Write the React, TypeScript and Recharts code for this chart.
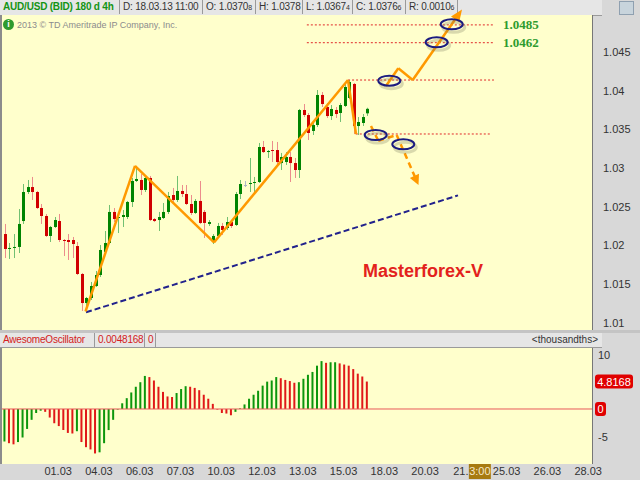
import React from 'react';
import { ComposedChart, Bar, Cell, XAxis, YAxis, ReferenceLine, ReferenceDot } from 'recharts';

const FONT = 'Arial, "Liberation Sans", sans-serif';

// 4h candles, AUD/USD, oldest first
const opens = [
  1.02149, 1.01956, 1.01969, 1.01982, 1.02317, 1.02692, 1.02756, 1.02692, 1.02485, 1.02382,
  1.02124, 1.0224, 1.02317, 1.02072, 1.02072, 1.02072, 1.01994, 1.01633, 1.01258, 1.01323,
  1.01478, 1.0162, 1.01917, 1.02033, 1.02434, 1.02356, 1.02369, 1.02369, 1.02563, 1.02834,
  1.02847, 1.02718, 1.02873, 1.02343, 1.0233, 1.02356, 1.02434, 1.02653, 1.02589, 1.02705,
  1.02666, 1.02537, 1.02421, 1.02576, 1.02434, 1.02279, 1.02046, 1.02124, 1.02253, 1.02227,
  1.02304, 1.02266, 1.02666, 1.02782, 1.02795, 1.02808, 1.02821, 1.03273, 1.03208, 1.03234,
  1.03234, 1.03066, 1.03079, 1.03144, 1.03066, 1.02976, 1.03751, 1.03686, 1.0348, 1.03557,
  1.03945, 1.0379, 1.03673, 1.03751, 1.03712, 1.03803, 1.03906, 1.04087, 1.03544, 1.03583,
  1.03708,
];
const closes = [
  1.01956, 1.01969, 1.01982, 1.02279, 1.02692, 1.02756, 1.02692, 1.02485, 1.02382, 1.02124,
  1.0224, 1.0233, 1.02072, 1.02059, 1.02046, 1.0202, 1.01633, 1.01258, 1.01323, 1.01478,
  1.0162, 1.01943, 1.02033, 1.02434, 1.02343, 1.02369, 1.02395, 1.02563, 1.02834, 1.0286,
  1.02718, 1.02873, 1.0233, 1.02317, 1.02369, 1.02434, 1.0264, 1.02589, 1.02705, 1.02666,
  1.02537, 1.02421, 1.02576, 1.02292, 1.02292, 1.02304, 1.02124, 1.02253, 1.02201, 1.02304,
  1.02253, 1.02666, 1.02795, 1.02782, 1.02808, 1.02821, 1.03273, 1.03208, 1.03221, 1.03221,
  1.03079, 1.03144, 1.03144, 1.03066, 1.02976, 1.03751, 1.03686, 1.03454, 1.03557, 1.03945,
  1.03828, 1.03673, 1.03764, 1.03699, 1.03815, 1.04048, 1.04113, 1.03544, 1.03596, 1.0366,
  1.03766,
];
const highs = [
  1.02279, 1.02033, 1.02149, 1.02472, 1.02795, 1.02847, 1.02886, 1.02705, 1.02537, 1.02408,
  1.02253, 1.02369, 1.02408, 1.02085, 1.02149, 1.02111, 1.02046, 1.01646, 1.01336, 1.0153,
  1.01672, 1.02007, 1.02188, 1.02524, 1.02485, 1.02395, 1.02459, 1.02576, 1.02873, 1.03015,
  1.02924, 1.02911, 1.02899, 1.02356, 1.02434, 1.0255, 1.02692, 1.02744, 1.02899, 1.02782,
  1.02782, 1.02653, 1.02601, 1.02834, 1.02459, 1.0233, 1.02149, 1.02292, 1.02292, 1.02369,
  1.0233, 1.02692, 1.02847, 1.02834, 1.03131, 1.02886, 1.03325, 1.03351, 1.03234, 1.03351,
  1.03338, 1.03196, 1.03208, 1.03208, 1.03131, 1.03764, 1.03828, 1.03712, 1.03596, 1.04009,
  1.03983, 1.03841, 1.03815, 1.0379, 1.03841, 1.04113, 1.04138, 1.041, 1.0366, 1.03699,
  1.0378,
];
const lows = [
  1.01839, 1.01827, 1.01839, 1.01904, 1.02279, 1.02666, 1.02589, 1.02472, 1.02279, 1.02111,
  1.02046, 1.02227, 1.02046, 1.01865, 1.01814, 1.01839, 1.0162, 1.01155, 1.01194, 1.01297,
  1.01465, 1.01594, 1.01904, 1.0202, 1.02304, 1.02162, 1.0224, 1.02343, 1.02498, 1.02821,
  1.02653, 1.02692, 1.02317, 1.02304, 1.02188, 1.02343, 1.02408, 1.02563, 1.02563, 1.02627,
  1.02524, 1.02395, 1.02408, 1.02279, 1.02098, 1.02253, 1.0202, 1.02098, 1.02137, 1.02201,
  1.02227, 1.02253, 1.02601, 1.02756, 1.02692, 1.02666, 1.02808, 1.03196, 1.03131, 1.03079,
  1.03041, 1.02976, 1.03041, 1.02821, 1.02873, 1.02873, 1.0366, 1.03363, 1.03428, 1.03531,
  1.0379, 1.03648, 1.03622, 1.03648, 1.03596, 1.0379, 1.03893, 1.03441, 1.03428, 1.03544,
  1.03674,
];

// Awesome Oscillator, thousandths
const aoValues = [
  -5.7, -6.0, -6.2, -5.8, -5.0, -3.5, -1.9, -0.7, -0.3, -0.5,
  -1.5, -2.5, -3.0, -3.7, -4.2, -4.3, -3.9, -5.8, -6.7, -7.1,
  -7.8, -7.6, -6.0, -3.7, -1.9, -0.1, 1.0, 1.9, 2.9, 3.9,
  4.7, 5.8, 5.6, 5.0, 3.9, 3.0, 2.2, 2.1, 2.8, 3.5,
  4.0, 3.9, 3.7, 3.3, 2.5, 1.8, 0.9, -0.1, -0.7, -0.8,
  -1.1, -0.5, 0.1, 0.8, 1.8, 2.5, 3.2, 4.1, 4.8, 5.0,
  5.6, 5.4, 5.1, 4.9, 4.6, 4.7, 5.3, 6.0, 6.5, 7.6,
  8.4, 8.1, 8.2, 8.2, 8.0, 7.8, 7.6, 7.0, 6.2, 5.7,
  4.8168,
];

const dateTicks = [11.8, 20.8, 29.8, 38.8, 47.8, 56.8, 65.8, 74.8, 83.8, 92.8, 101.8, 110.8, 119.8, 128.8];
// "21." is the date partly hidden behind the cursor time box
const dateLabels = ['01.03', '04.03', '06.03', '07.03', '10.03', '12.03', '13.03', '15.03', '18.03', '20.03', '21.', '25.03', '26.03', '28.03'];
const priceTicks = [1.01, 1.015, 1.02, 1.025, 1.03, 1.035, 1.04, 1.045];

const symbolTitle = 'AUD/USD (BID) 180 d 4h';
const barTime = '18.03.13 11:00';
const cursorTime = '3:00';

// hand-drawn analysis, in (bar index, price)
const zigzag = [
  { x: 17.84, y: 1.01149 }, { x: 28.76, y: 1.03028 }, { x: 46.2, y: 1.0204 },
  { x: 75.78, y: 1.04138 }, { x: 77.55, y: 1.03441 },
];
const trendLine = [{ x: 17.95, y: 1.01138 }, { x: 100.07, y: 1.02648 }];
const targetPath = [
  { x: 84.17, y: 1.04061 }, { x: 86.89, y: 1.04289 }, { x: 90.07, y: 1.04138 }, { x: 99.69, y: 1.04943 },
];
const targetTip = { x: 100.95, y: 1.05049 };
const downPath = [
  { x: 80.86, y: 1.03544 }, { x: 82.47, y: 1.03354 }, { x: 86.53, y: 1.03428 }, { x: 90.56, y: 1.02888 },
];
const downTip = { x: 91.35, y: 1.02782 };
const levelPrices = [1.0485, 1.0462, 1.04138, 1.03441];
const levelStarts = [66.7, 66.7, 75.8, 77.5];
const levelEnds = [108, 108, 108, 107.2];
const labelledLevels = [1.0485, 1.0462];
const circles = [
  { x: 98.68, y: 1.04858 }, { x: 95.36, y: 1.04625 }, { x: 84.9, y: 1.04129 },
  { x: 81.9, y: 1.03428 }, { x: 87.99, y: 1.03308 },
];

const xDomain = [-0.596, 129.65];

const rows = opens.map((o, i) => ({
  i,
  open: o,
  close: closes[i],
  high: highs[i],
  low: lows[i],
  ao: aoValues[i],
  aoColor: i > 0 && aoValues[i] < aoValues[i - 1] ? '#e01818' : '#0c960c',
}));
const last = rows[rows.length - 1];
const aoLast = aoValues[aoValues.length - 1];

const split = (v: number) => {
  const s = v.toFixed(5);
  const d = s.slice(-1);
  return { main: s.slice(0, -1), small: d === '0' ? '' : d };
};

const Candle = (props: any) => {
  const { x, y, width, height, payload } = props;
  const top = Math.min(y, y + height);
  const h = Math.abs(height);
  const range = payload.high - payload.low;
  const ppu = range > 0 ? h / range : 0;
  const py = (v: number) => top + (payload.high - v) * ppu;
  const cx = Math.round(x + width / 2) + 0.5;
  const flat = payload.close === payload.open;
  const up = payload.close > payload.open;
  const body = flat ? '#a8b0c0' : up ? '#008400' : '#d00000';
  const wick = flat ? '#b0b8c8' : up ? '#72c072' : '#ec8c8c';
  const yo = py(payload.open);
  const yc = py(payload.close);
  const bt = Math.min(yo, yc);
  const bh = Math.max(1, Math.abs(yo - yc));
  return (
    <g>
      <line x1={cx} x2={cx} y1={top} y2={top + h} stroke={wick} strokeWidth={1} />
      <rect x={cx - 1.5} y={bt} width={3} height={bh} fill={body} />
    </g>
  );
};

const Ring = (p: any) => (
  <g>
    <ellipse cx={p.cx + 2} cy={p.cy + 3} rx={11} ry={5} fill="none" stroke="rgba(120,120,90,0.28)" strokeWidth={3} />
    <ellipse cx={p.cx} cy={p.cy} rx={11} ry={5} fill="none" stroke="#1c1c80" strokeWidth={2} />
  </g>
);

const arrowHead = (angle: number, len: number, half: number) => (p: any) => (
  <polygon
    points={`${p.cx},${p.cy} ${p.cx - len},${p.cy - half} ${p.cx - len},${p.cy + half}`}
    fill="#ff9900"
    transform={`rotate(${angle} ${p.cx} ${p.cy})`}
  />
);

const segs = (pts: { x: number; y: number }[]) =>
  pts.slice(1).map((p, k) => [pts[k], p] as [{ x: number; y: number }, { x: number; y: number }]);

const DateTick = (p: any) => {
  const k = dateTicks.indexOf(p.payload.value);
  const label = dateLabels[k];
  const isCursor = k === 10;
  return (
    <g>
      <text x={isCursor ? p.x - 5 : p.x} y={p.y + 9} textAnchor="middle" fontSize={11} fontFamily={FONT} fill="#333">{label}</text>
      {isCursor && (
        <g>
          <rect x={p.x + 3} y={p.y - 2} width={22} height={15} fill="#a77a10" />
          <text x={p.x + 14} y={p.y + 9} textAnchor="middle" fontSize={11} fontFamily={FONT} fill="#f6e8c8">{cursorTime}</text>
        </g>
      )}
    </g>
  );
};

const AoTick = (p: any) => {
  const v = p.payload.value;
  if (v === aoLast || v === 0) {
    const txt = v === 0 ? '0' : v.toFixed(4);
    const w = v === 0 ? 11 : 38;
    return (
      <g>
        <rect x={p.x} y={p.y - 7} width={w} height={14} rx={3} fill="#e00000" />
        <text x={p.x + w / 2} y={p.y + 4} textAnchor="middle" fontSize={11} fontFamily={FONT} fill="#fff">{txt}</text>
      </g>
    );
  }
  // top label sits right under the panel header
  const dy = v > 9 ? 7 : 4;
  return (
    <text x={p.x + 3} y={p.y + dy} fontSize={11} fontFamily={FONT} fill="#333">{v}</text>
  );
};

const cellStyle = (left: number, width: number, color = '#333', bold = false): React.CSSProperties => ({
  position: 'absolute',
  left,
  top: 0,
  width,
  height: 14,
  borderRight: '1px solid #9a9a9a',
  paddingLeft: 3,
  boxSizing: 'border-box',
  fontSize: 10,
  letterSpacing: -0.2,
  lineHeight: '14px',
  color,
  fontWeight: bold ? 700 : 400,
  whiteSpace: 'nowrap',
});

const Val = ({ label, v }: { label: string; v: number }) => {
  const s = split(v);
  return (
    <span>
      {label}: {s.main}
      <span style={{ fontSize: 7 }}>{s.small}</span>
    </span>
  );
};

const App = () => {
  return (
    <div style={{ position: 'fixed', left: 0, top: 0, width: 640, height: 480, background: '#d8d8d8', overflow: 'hidden', fontFamily: FONT }}>
      {/* quote header */}
      <div style={{ position: 'absolute', left: 0, top: 0, width: 602, height: 15, background: '#e6e6e6', borderBottom: '1px solid #9a9a9a' }}>
        <div style={cellStyle(0, 120, '#149414', true)}>{symbolTitle}</div>
        <div style={cellStyle(120, 83)}>D: {barTime}</div>
        <div style={cellStyle(203, 53)}><Val label="O" v={last.open} /></div>
        <div style={cellStyle(256, 47)}><Val label="H" v={last.high} /></div>
        <div style={cellStyle(303, 50)}><Val label="L" v={last.low} /></div>
        <div style={cellStyle(353, 53)}><Val label="C" v={last.close} /></div>
        <div style={cellStyle(406, 52)}><Val label="R" v={last.high - last.low} /></div>
      </div>
      <div style={{ position: 'absolute', left: 619, top: 1, width: 13, height: 12, background: '#c8d4dc', border: '1px solid #8fa0b0' }} />

      {/* price panel */}
      <div style={{ position: 'absolute', left: 0, top: 15, width: 2, height: 315, background: '#8c8c8c' }} />
      <div style={{ position: 'absolute', left: 2, top: 15, width: 590, height: 315, background: '#ffffcc', borderRight: '1px solid #777' }} />
      <div style={{ position: 'absolute', left: 3, top: 19, width: 11, height: 11, borderRadius: 6, background: '#2e9b2e', color: '#fff', fontSize: 9, fontWeight: 700, lineHeight: '11px', textAlign: 'center' }}>i</div>
      <div style={{ position: 'absolute', left: 17, top: 19, fontSize: 9, color: '#8c8c8c', lineHeight: '12px' }}>2013 © TD Ameritrade IP Company, Inc.</div>
      <div style={{ position: 'absolute', left: 363, top: 260, fontSize: 18, fontWeight: 700, color: '#e3221c', lineHeight: '22px' }}>Masterforex-V</div>
      <div style={{ position: 'absolute', left: 0, top: 0 }}>
        <ComposedChart width={640} height={331} data={rows} margin={{ top: 14, right: 0, bottom: 1, left: 2 }}>
          <XAxis type="number" dataKey="i" domain={xDomain} allowDataOverflow hide ticks={dateTicks} />
          <YAxis
            orientation="right"
            width={48}
            domain={[1.009096, 1.049907]}
            allowDataOverflow
            ticks={priceTicks}
            interval={0}
            axisLine={false}
            tickLine={false}
            tickSize={0}
            tickMargin={11}
            tick={{ fill: '#333', fontSize: 11, fontFamily: FONT }}
          />
          <Bar dataKey={(d: any) => [d.low, d.high]} shape={Candle} barSize={3} isAnimationActive={false} />
          {levelPrices.map((lv, k) => (
            <ReferenceLine
              key={`lv${k}`}
              segment={[{ x: levelStarts[k], y: lv }, { x: levelEnds[k], y: lv }]}
              stroke="#e02828"
              strokeDasharray="2 2"
            />
          ))}
          {segs(trendLine).map((s, k) => (
            <ReferenceLine key={`tr${k}`} segment={s} stroke="#22228c" strokeWidth={2} strokeDasharray="6 3" />
          ))}
          {segs(zigzag).map((s, k) => (
            <ReferenceLine key={`zz${k}`} segment={s} stroke="#ff9900" strokeWidth={2.5} />
          ))}
          {segs(targetPath).map((s, k) => (
            <ReferenceLine key={`tp${k}`} segment={s} stroke="#ff9900" strokeWidth={2.5} ifOverflow="visible" />
          ))}
          <ReferenceDot x={targetTip.x} y={targetTip.y} r={0} ifOverflow="visible" shape={arrowHead(-55, 12, 5)} />
          {segs(downPath).map((s, k) => (
            <ReferenceLine key={`dp${k}`} segment={s} stroke="#ff9900" strokeWidth={2.5} strokeDasharray="6 4" />
          ))}
          <ReferenceDot x={downTip.x} y={downTip.y} r={0} ifOverflow="visible" shape={arrowHead(66, 10, 5)} />
          {circles.map((c, k) => (
            <ReferenceDot key={`c${k}`} x={c.x} y={c.y} r={0} ifOverflow="visible" shape={Ring} />
          ))}
          {labelledLevels.map((lv) => (
            <ReferenceDot
              key={`lb${lv}`}
              x={110}
              y={lv}
              r={0}
              shape={(p: any) => (
                <text x={p.cx} y={p.cy + 4} fontSize={13} fontWeight={700} fontFamily='"Liberation Serif", "Times New Roman", serif' fill="#2e9b2e">
                  {lv.toFixed(4)}
                </text>
              )}
            />
          ))}
        </ComposedChart>
      </div>

      {/* oscillator panel */}
      <div style={{ position: 'absolute', left: 0, top: 330, width: 640, height: 3, background: '#c4c4c4' }} />
      <div style={{ position: 'absolute', left: 0, top: 333, width: 602, height: 15, background: '#e6e6e6', borderBottom: '1px solid #9a9a9a', boxSizing: 'border-box' }}>
        <div style={cellStyle(0, 95, '#d42020')}>AwesomeOscillator</div>
        <div style={cellStyle(95, 50, '#d42020')}>{(aoLast / 1000).toFixed(7)}</div>
        <div style={cellStyle(145, 11, '#d42020')}>0</div>
        <div style={{ position: 'absolute', right: 4, top: 0, fontSize: 10, lineHeight: '14px', color: '#333' }}>&lt;thousandths&gt;</div>
      </div>
      <div style={{ position: 'absolute', left: 0, top: 348, width: 2, height: 116, background: '#8c8c8c' }} />
      <div style={{ position: 'absolute', left: 2, top: 348, width: 590, height: 116, background: '#ffffcc', borderRight: '1px solid #777' }} />
      <div style={{ position: 'absolute', left: 0, top: 348 }}>
        <ComposedChart width={640} height={132} data={rows} margin={{ top: 0, right: 0, bottom: 0, left: 2 }}>
          <XAxis
            type="number"
            dataKey="i"
            domain={xDomain}
            allowDataOverflow
            ticks={dateTicks}
            interval={0}
            height={16}
            axisLine={false}
            tickLine={false}
            tickSize={0}
            tickMargin={2}
            tick={DateTick}
          />
          <YAxis
            orientation="right"
            width={48}
            domain={[-9.65, 10.7]}
            allowDataOverflow
            ticks={[-5, 0, aoLast, 10]}
            interval={0}
            axisLine={false}
            tickLine={false}
            tickSize={0}
            tickMargin={3}
            tick={AoTick}
          />
          <ReferenceLine y={0} stroke="#e85a5a" />
          <Bar dataKey="ao" barSize={2} isAnimationActive={false}>
            {rows.map((r, k) => (
              <Cell key={k} fill={r.aoColor} />
            ))}
          </Bar>
        </ComposedChart>
      </div>
    </div>
  );
};

export default App;
